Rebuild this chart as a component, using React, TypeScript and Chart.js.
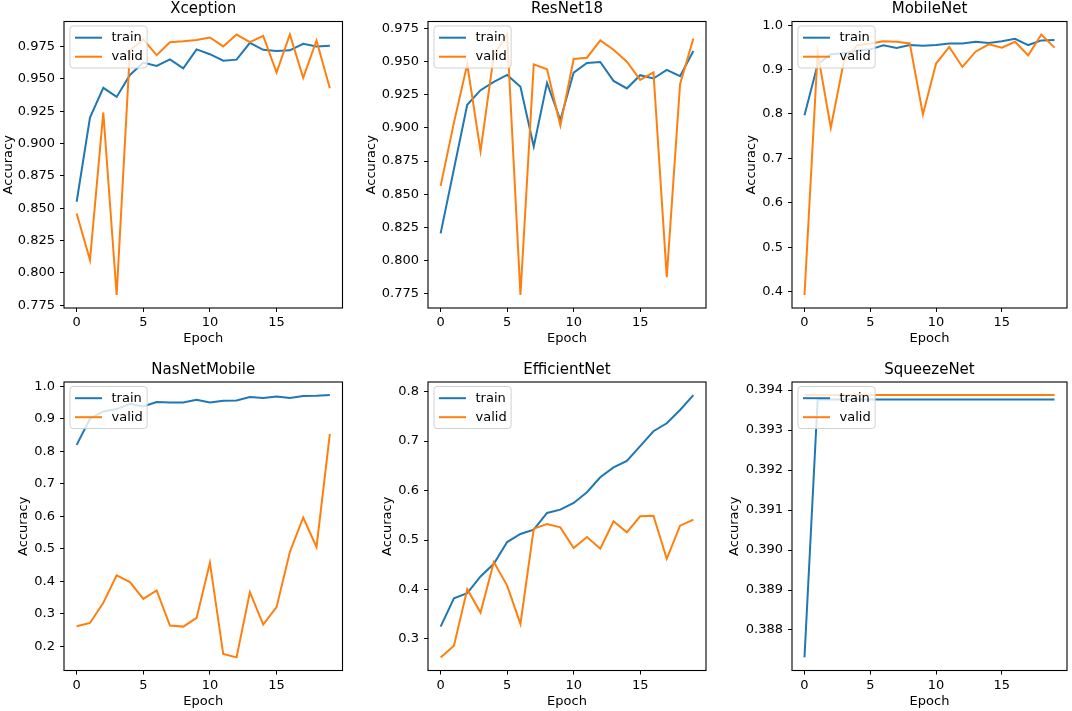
import React, { useEffect, useRef } from 'react';
import { Chart, registerables } from 'chart.js';

Chart.register(...registerables);

// ---------------- data ----------------
const epochs = [0, 1, 2, 3, 4, 5, 6, 7, 8, 9, 10, 11, 12, 13, 14, 15, 16, 17, 18, 19];
const xTicks = [0, 5, 10, 15];
const seriesLabels = ['train', 'valid'];
const panelTitles = ['Xception', 'ResNet18', 'MobileNet', 'NasNetMobile', 'EfficientNet', 'SqueezeNet'];

const xceptionTrain = [0.855, 0.920, 0.943, 0.936, 0.953, 0.9625, 0.960, 0.965, 0.958, 0.9727, 0.969, 0.964, 0.9648, 0.9778, 0.9724, 0.9714, 0.972, 0.977, 0.975, 0.9755];
const xceptionValid = [0.846, 0.810, 0.924, 0.783, 0.972, 0.9804, 0.9683, 0.9783, 0.979, 0.980, 0.9819, 0.975, 0.9842, 0.9783, 0.9832, 0.9548, 0.9842, 0.9507, 0.9796, 0.9427];
const xceptionYTicks = ['0.775', '0.800', '0.825', '0.850', '0.875', '0.900', '0.925', '0.950', '0.975'];

const resnetTrain = [0.8205, 0.869, 0.9175, 0.9285, 0.9348, 0.940, 0.931, 0.886, 0.934, 0.906, 0.9418, 0.949, 0.9498, 0.9355, 0.9298, 0.9398, 0.9373, 0.9438, 0.939, 0.958];
const resnetValid = [0.8563, 0.904, 0.948, 0.8825, 0.955, 0.9705, 0.774, 0.948, 0.9443, 0.9018, 0.952, 0.953, 0.966, 0.959, 0.950, 0.9363, 0.942, 0.7875, 0.933, 0.9675];
const resnetYTicks = ['0.775', '0.800', '0.825', '0.850', '0.875', '0.900', '0.925', '0.950', '0.975'];

const mobileTrain = [0.797, 0.912, 0.9345, 0.9367, 0.943, 0.9456, 0.9546, 0.9486, 0.9553, 0.9538, 0.9553, 0.959, 0.959, 0.9628, 0.960, 0.964, 0.9695, 0.9553, 0.9657, 0.9665];
const mobileValid = [0.3924, 0.938, 0.769, 0.92, 0.955, 0.959, 0.964, 0.9628, 0.959, 0.799, 0.9136, 0.951, 0.906, 0.9404, 0.957, 0.9494, 0.9628, 0.932, 0.979, 0.9494];
const mobileYTicks = ['0.4', '0.5', '0.6', '0.7', '0.8', '0.9', '1.0'];

const nasTrain = [0.8198, 0.90, 0.9228, 0.93, 0.9465, 0.938, 0.9516, 0.9506, 0.9506, 0.9588, 0.9506, 0.9557, 0.9568, 0.967, 0.964, 0.969, 0.964, 0.970, 0.971, 0.973];
const nasValid = [0.2618, 0.272, 0.3338, 0.4183, 0.3977, 0.346, 0.372, 0.2638, 0.2607, 0.2875, 0.4574, 0.1763, 0.166, 0.3668, 0.2669, 0.3205, 0.4903, 0.5964, 0.5058, 0.8538];
const nasYTicks = ['0.2', '0.3', '0.4', '0.5', '0.6', '0.7', '0.8', '0.9', '1.0'];

const effTrain = [0.325, 0.3824, 0.3926, 0.4264, 0.452, 0.496, 0.5122, 0.521, 0.5547, 0.5615, 0.575, 0.5966, 0.627, 0.647, 0.66, 0.69, 0.72, 0.736, 0.763, 0.793];
const effValid = [0.2628, 0.2865, 0.4007, 0.3534, 0.4554, 0.408, 0.3304, 0.523, 0.5324, 0.5257, 0.4838, 0.506, 0.4824, 0.5378, 0.5155, 0.548, 0.5493, 0.4622, 0.529, 0.5412];
const effYTicks = ['0.3', '0.4', '0.5', '0.6', '0.7', '0.8'];

const squeezeTrain = [0.387315, 0.393766, 0.393766, 0.393766, 0.393766, 0.393766, 0.393766, 0.393766, 0.393766, 0.393766, 0.393766, 0.393766, 0.393766, 0.393766, 0.393766, 0.393766, 0.393766, 0.393766, 0.393766, 0.393766];
const squeezeValid = [0.393875, 0.393875, 0.393875, 0.393875, 0.393875, 0.393875, 0.393875, 0.393875, 0.393875, 0.393875, 0.393875, 0.393875, 0.393875, 0.393875, 0.393875, 0.393875, 0.393875, 0.393875, 0.393875, 0.393875];
const squeezeYTicks = ['0.388', '0.389', '0.390', '0.391', '0.392', '0.393', '0.394'];

// ---------------- layout / style ----------------
const FONT = '"DejaVu Sans", sans-serif';
const TRAIN_COLOR = '#1f77b4';
const VALID_COLOR = '#ff7f0e';

const cols = [
  { left: 0, width: 355, axisW: 64, padRight: 12.5 },
  { left: 355, width: 360, axisW: 73, padRight: 9 },
  { left: 715, width: 357, axisW: 77, padRight: 5 },
];
const rows = [
  { top: 0, height: 352, padTop: 0, titlePadBottom: 3.5, xAxisH: 44, xTitlePad: 5.5 },
  { top: 340, height: 371, padTop: 21, titlePadBottom: 3, xAxisH: 40.5, xTitlePad: 1.8 },
];
const yTitleOffsets = [8.3, 16.7, 36.3, 24, 32.7, 19.7];

const panels = [
  { title: panelTitles[0], train: xceptionTrain, valid: xceptionValid, yTicks: xceptionYTicks },
  { title: panelTitles[1], train: resnetTrain, valid: resnetValid, yTicks: resnetYTicks },
  { title: panelTitles[2], train: mobileTrain, valid: mobileValid, yTicks: mobileYTicks },
  { title: panelTitles[3], train: nasTrain, valid: nasValid, yTicks: nasYTicks },
  { title: panelTitles[4], train: effTrain, valid: effValid, yTicks: effYTicks },
  { title: panelTitles[5], train: squeezeTrain, valid: squeezeValid, yTicks: squeezeYTicks },
];

function mplLimits(arrs: number[][]): [number, number] {
  const all = arrs.flat();
  const lo = Math.min(...all);
  const hi = Math.max(...all);
  const m = (hi - lo) * 0.05;
  return [lo - m, hi + m];
}

const mplFrameLegend = {
  id: 'mplFrameLegend',
  afterDatasetsDraw(chart: any) {
    const { ctx, chartArea } = chart;
    ctx.save();
    // frame
    ctx.strokeStyle = '#000';
    ctx.lineWidth = 1.1;
    ctx.strokeRect(chartArea.left, chartArea.top, chartArea.right - chartArea.left, chartArea.bottom - chartArea.top);
    // legend
    ctx.font = '13px ' + FONT;
    const dsets = chart.data.datasets;
    const tw = Math.max(...dsets.map((d: any) => ctx.measureText(d.label).width));
    const bx = chartArea.left + 6;
    const by = chartArea.top + 4.5;
    const bw = 42 + tw + 4;
    const bh = 42;
    ctx.beginPath();
    if (ctx.roundRect) ctx.roundRect(bx, by, bw, bh, 3);
    else ctx.rect(bx, by, bw, bh);
    ctx.fillStyle = 'rgba(255,255,255,0.8)';
    ctx.fill();
    ctx.strokeStyle = 'rgba(204,204,204,0.9)';
    ctx.lineWidth = 1;
    ctx.stroke();
    dsets.forEach((d: any, i: number) => {
      const ly = by + 11.7 + i * 19;
      ctx.strokeStyle = d.borderColor;
      ctx.lineWidth = d.borderWidth;
      ctx.beginPath();
      ctx.moveTo(bx + 5, ly);
      ctx.lineTo(bx + 32, ly);
      ctx.stroke();
      ctx.fillStyle = '#000';
      ctx.textBaseline = 'middle';
      ctx.textAlign = 'left';
      ctx.fillText(d.label, bx + 41.5, ly);
    });
    ctx.restore();
  },
};

function Panel({ index }: { index: number }) {
  const ref = useRef<HTMLCanvasElement | null>(null);
  const p = panels[index];
  const col = cols[index % 3];
  const row = rows[Math.floor(index / 3)];

  useEffect(() => {
    if (!ref.current) return;
    const [ymin, ymax] = mplLimits([p.train, p.valid]);
    const yVals = p.yTicks.map((s) => parseFloat(s));
    const chart = new Chart(ref.current, {
      type: 'line',
      data: {
        datasets: [
          {
            label: seriesLabels[0],
            data: epochs.map((e, i) => ({ x: e, y: p.train[i] })),
            borderColor: TRAIN_COLOR,
            backgroundColor: TRAIN_COLOR,
            borderWidth: 2,
            pointRadius: 0,
            tension: 0,
            fill: false,
            order: 1,
          },
          {
            label: seriesLabels[1],
            data: epochs.map((e, i) => ({ x: e, y: p.valid[i] })),
            borderColor: VALID_COLOR,
            backgroundColor: VALID_COLOR,
            borderWidth: 2,
            pointRadius: 0,
            tension: 0,
            fill: false,
            order: 0,
          },
        ],
      },
      options: {
        animation: false,
        responsive: false,
        maintainAspectRatio: false,
        devicePixelRatio: 1,
        events: [],
        layout: { padding: { left: 0, right: col.padRight, top: row.padTop, bottom: 0 } },
        plugins: {
          legend: { display: false },
          tooltip: { enabled: false },
          title: {
            display: true,
            text: p.title,
            fullSize: false,
            color: '#000',
            font: { family: FONT, size: 15, weight: 'normal', lineHeight: 1.2 },
            padding: { top: 0, bottom: row.titlePadBottom },
          },
        },
        scales: {
          x: {
            type: 'linear',
            min: -0.95,
            max: 19.95,
            afterBuildTicks: (scale: any) => {
              scale.ticks = xTicks.map((v) => ({ value: v }));
            },
            afterFit: (scale: any) => {
              scale.height = row.xAxisH;
            },
            ticks: {
              autoSkip: false,
              maxRotation: 0,
              padding: 3,
              color: '#000',
              font: { family: FONT, size: 13, lineHeight: 1.2 },
              callback: (v: any) => String(v),
            },
            grid: { display: true, drawOnChartArea: false, drawTicks: true, tickLength: 4, color: '#000', lineWidth: 1 },
            border: { display: false },
            title: {
              display: true,
              text: 'Epoch',
              color: '#000',
              font: { family: FONT, size: 13, lineHeight: 1.2 },
              padding: { top: 0, bottom: row.xTitlePad },
            },
          },
          y: {
            type: 'linear',
            min: ymin,
            max: ymax,
            afterBuildTicks: (scale: any) => {
              scale.ticks = yVals.map((v) => ({ value: v }));
            },
            afterFit: (scale: any) => {
              scale.width = col.axisW;
            },
            ticks: {
              autoSkip: false,
              padding: 5,
              color: '#000',
              font: { family: FONT, size: 13, lineHeight: 1.2 },
              callback: (_v: any, i: number) => p.yTicks[i],
            },
            grid: { display: true, drawOnChartArea: false, drawTicks: true, tickLength: 4, color: '#000', lineWidth: 1 },
            border: { display: false },
            title: {
              display: true,
              text: 'Accuracy',
              color: '#000',
              font: { family: FONT, size: 13, lineHeight: 1.2 },
              padding: { top: yTitleOffsets[index] - 7.8, bottom: 0 },
            },
          },
        },
      },
      plugins: [mplFrameLegend],
    } as any);
    return () => chart.destroy();
  }, [index]);

  return (
    <canvas
      ref={ref}
      width={col.width}
      height={row.height}
      style={{ position: 'absolute', left: col.left, top: row.top, width: col.width, height: row.height }}
    />
  );
}

export default function App() {
  return (
    <div style={{ position: 'fixed', left: 0, top: 0, width: 1072, height: 711, background: '#fff', overflow: 'hidden' }}>
      {panels.map((_, i) => (
        <Panel key={i} index={i} />
      ))}
    </div>
  );
}
